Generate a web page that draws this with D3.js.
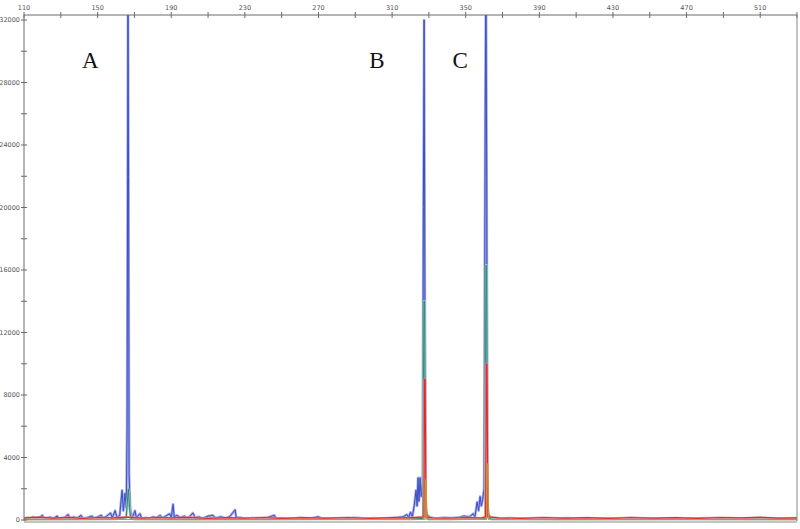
<!DOCTYPE html>
<html><head><meta charset="utf-8">
<script src="https://cdn.jsdelivr.net/npm/d3@7/dist/d3.min.js"></script>
<style>body{margin:0;background:#fff}svg{display:block}</style>
</head><body>
<svg id="c" width="800" height="529"></svg>
<script>
// ---- data ----
const xMajorTicks = [110,150,190,230,270,310,350,390,430,470,510];
const xMinorTicks = [130,170,210,250,290,330,370,410,450,490,530];
const yMajorTicks = [0,4000,8000,12000,16000,20000,24000,28000,32000];
const yMinorTicks = [2000,6000,10000,14000,18000,22000,26000,30000];
const peakLabels = ["A","B","C"];
const peakLabelPos = [146,301.8,347];

const blueSeries = [[110,80],[112,150],[113,90],[115,200],[116,80],[118,120],[120,300],[121,90],[124,180],[126,100],[128,250],[129,90],[132,150],[134,350],[135,100],[137,200],[139,120],[141,300],[142,100],[145,180],[147,250],[148,100],[150,200],[152,300],[153,120],[155,250],[157,450],[158,150],[159.5,600],[160.5,150],[162,300],[163.3,1900],[164,600],[164.9,1700],[165.6,800],[166,6000],[166.3,22000],[166.5,34000],[166.8,22000],[167.1,3000],[167.6,1000],[168.2,300],[169,200],[170.3,600],[171,150],[173,400],[174,100],[176,150],[178,90],[180,200],[182,150],[184,300],[185,120],[187,250],[189,400],[190,200],[191,1000],[191.6,200],[193,300],[195,150],[197,250],[199,100],[201.8,450],[203,150],[205,200],[207,100],[210,250],[212.7,300],[214,120],[217,200],[220,100],[222,250],[224.7,650],[225.3,150],[228,150],[230,80],[234,120],[238,90],[242,150],[246,300],[247,100],[250,120],[255,80],[260,140],[265,90],[270,200],[272,80],[278,100],[285,80],[290,140],[296,90],[300,120],[306,80],[312,150],[316,200],[318,350],[319,150],[320,500],[321,200],[322,900],[323,1900],[323.6,900],[324.1,2700],[324.6,1200],[325.2,2700],[325.8,1500],[326.6,2500],[327,20000],[327.4,32000],[327.8,15000],[328.2,800],[329,300],[331,150],[334,100],[338,150],[342,120],[346,150],[349,250],[352,200],[354,400],[355,200],[356.2,1150],[357,600],[357.8,1500],[358.5,900],[359.2,1300],[360,2000],[360.6,26000],[361,35000],[361.4,22000],[361.8,1000],[362.5,300],[364,150],[368,100],[375,130],[382,80],[390,110],[398,90],[405,120],[412,80],[420,110],[430,90],[440,120],[450,80],[460,110],[470,90],[480,130],[490,100],[500,90],[510,120],[520,90],[530,100]];

const greenSeries = [[110,40],[140,50],[160,60],[165.5,150],[166.2,1200],[166.7,2000],[167.3,800],[168,100],[170,50],[250,40],[326.8,100],[327.3,14000],[327.7,14000],[328.2,200],[330,50],[360.6,100],[361,16300],[361.4,16300],[361.9,200],[364,50],[530,40]];

const redSeries = [[110,130],[118,180],[126,120],[134,170],[142,110],[150,160],[158,130],[166,190],[174,120],[182,160],[190,130],[200,170],[210,110],[220,150],[230,120],[240,160],[250,110],[262,150],[274,120],[286,160],[298,110],[310,150],[318,130],[324,170],[327.3,200],[327.6,9000],[328,9000],[328.4,200],[332,140],[340,120],[350,160],[358,130],[360.8,200],[361.2,10000],[361.6,10000],[362,200],[368,140],[380,110],[392,160],[404,120],[416,150],[428,110],[440,160],[452,120],[464,150],[476,110],[488,160],[500,130],[510,170],[520,120],[530,140]];

const orangeSeries = [[110,20],[160,30],[166,30],[200,20],[260,30],[320,20],[327.9,40],[328.2,2600],[328.5,2600],[328.9,40],[340,20],[361.3,40],[361.6,3600],[361.9,3600],[362.3,40],[400,20],[470,30],[530,20]];

// ---- layout ----
const svg = d3.select("#c");
const L = 24, R = 797, T = 15, B = 521;
const x = d3.scaleLinear().domain([110, 530]).range([L, R]);
const y = d3.scaleLinear().domain([0, 32000]).range([520, 20]);

svg.append("defs").append("clipPath").attr("id","clip")
  .append("rect").attr("x",L).attr("y",T).attr("width",R-L).attr("height",B-T);

const line = d3.line().x(d=>x(d[0])).y(d=>y(d[1]));
const g = svg.append("g").attr("clip-path","url(#clip)");

const series = [
  {d: blueSeries, c: "#3d4fc4", h: "#a4abe6", hw: 2.6, w: 1},
  {d: greenSeries, c: "#2a8470", h: "#9fd0bd", hw: 2.4, w: 1},
  {d: orangeSeries, c: "#c8962e", h: null, hw: 0, w: 1},
  {d: redSeries, c: "#e02a30", h: "#f4a4a0", hw: 2.0, w: 1.2}
];
series.forEach(s=>{
  if (s.h) g.append("path").datum(s.d).attr("d",line).attr("fill","none")
    .attr("stroke",s.h).attr("stroke-width",s.hw).attr("stroke-linejoin","round");
  g.append("path").datum(s.d).attr("d",line).attr("fill","none")
    .attr("stroke",s.c).attr("stroke-width",s.w).attr("stroke-linejoin","round");
});
// orange peaks over red
g.append("path").datum(orangeSeries.filter(d=>d[1]>1000 || (d[0]>327 && d[0]<329) || (d[0]>361 && d[0]<363)))
  .attr("d",line).attr("fill","none").attr("stroke","#c8962e").attr("stroke-width",1);

// frame
const ax = "#6a6a6a";
svg.append("line").attr("x1",L).attr("x2",R).attr("y1",T).attr("y2",T).attr("stroke",ax);
svg.append("line").attr("x1",L).attr("x2",L).attr("y1",T).attr("y2",B).attr("stroke",ax);
svg.append("line").attr("x1",R).attr("x2",R).attr("y1",T).attr("y2",B).attr("stroke","#888");
svg.append("line").attr("x1",L).attr("x2",R).attr("y1",B+1).attr("y2",B+1).attr("stroke","#888");

// top axis ticks
const tk = svg.append("g");
xMajorTicks.concat(xMinorTicks).forEach(v=>{
  if (x(v) > R) return;
  tk.append("line").attr("x1",x(v)).attr("x2",x(v)).attr("y1",T-3).attr("y2",T+3).attr("stroke",ax);
});
xMajorTicks.forEach(v=>{
  tk.append("text").attr("x",x(v)).attr("y",T-5).attr("text-anchor","middle")
    .attr("font-family","DejaVu Sans, sans-serif").attr("font-size",6.5).attr("fill","#555").text(v);
});
// left axis ticks
yMajorTicks.concat(yMinorTicks).forEach(v=>{
  tk.append("line").attr("x1",L-3).attr("x2",L+3).attr("y1",y(v)).attr("y2",y(v)).attr("stroke",ax);
});
yMajorTicks.forEach(v=>{
  tk.append("text").attr("x",L-4).attr("y",y(v)+2.3).attr("text-anchor","end")
    .attr("font-family","DejaVu Sans, sans-serif").attr("font-size",6.5).attr("fill","#555").text(v);
});

// peak labels
peakLabels.forEach((t,i)=>{
  svg.append("text").attr("x",x(peakLabelPos[i])).attr("y",68).attr("text-anchor","middle")
    .attr("font-family","Liberation Serif, serif").attr("font-size",23).attr("fill","#111").text(t);
});
</script>
</body></html>
